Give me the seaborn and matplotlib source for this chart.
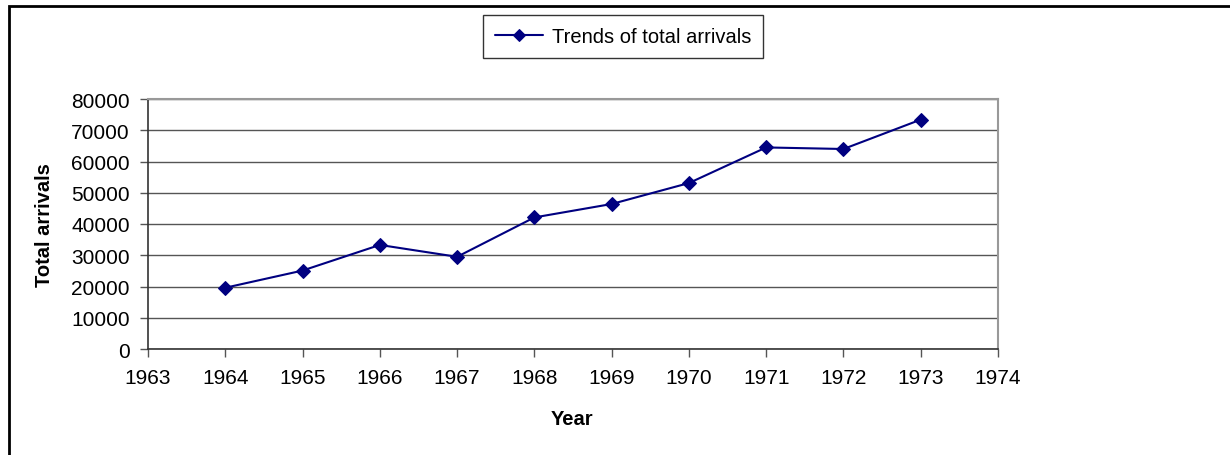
import matplotlib
matplotlib.use("Agg")
import matplotlib.pyplot as plt
import seaborn as sns
import pandas as pd
from matplotlib.patches import Rectangle

years = [1964, 1965, 1966, 1967, 1968, 1969, 1970, 1971, 1972, 1973]
arrivals = [19600, 25100, 33300, 29500, 42100, 46400, 53100, 64500, 64000, 73400]
series_name = "Trends of total arrivals"
x_ticks = list(range(1963, 1975))
y_ticks = list(range(0, 80001, 10000))

df = pd.DataFrame({"Year": years, "Total arrivals": arrivals})

sns.set_style("white")
plt.rcParams["font.family"] = ["Liberation Sans", "DejaVu Sans"]
plt.rcParams["text.color"] = "black"
plt.rcParams["xtick.color"] = "black"
plt.rcParams["ytick.color"] = "black"

W, H = 1230, 456
fig = plt.figure(figsize=(W / 100, H / 100), dpi=100)
ax = fig.add_axes([148 / W, 1 - 350 / H, (998 - 148) / W, 250 / H])

sns.lineplot(data=df, x="Year", y="Total arrivals", ax=ax, color="#000080",
             marker="D", markersize=7, markeredgecolor="#000080",
             linewidth=1.5, label=series_name)

ax.set_xlim(1963, 1974)
ax.set_ylim(0, 80000)
ax.set_xticks(x_ticks)
ax.set_yticks(y_ticks)
ax.set_xticklabels([str(t) for t in x_ticks], fontsize=15, color="black")
ax.set_yticklabels([str(t) for t in y_ticks], fontsize=15, color="black")
ax.tick_params(axis="both", direction="out", length=6, width=1, color="#555555",
               labelcolor="black", bottom=True, left=True)
ax.tick_params(axis="y", pad=7)
ax.tick_params(axis="x", pad=8)
ax.yaxis.grid(True, color="#555555", linewidth=1)
ax.set_axisbelow(True)
for s in ["top", "right"]:
    ax.spines[s].set_color("#999999")
    ax.spines[s].set_linewidth(1.5)
for s in ["left", "bottom"]:
    ax.spines[s].set_color("#333333")
    ax.spines[s].set_linewidth(1.2)

ax.set_xlabel("")
ax.set_ylabel("")
fig.text(572 / W, 1 - 420 / H, "Year", fontsize=14.5, fontweight="bold",
         ha="center", va="center", color="black")
fig.text(45 / W, 1 - 225 / H, "Total arrivals", fontsize=14.5, fontweight="bold",
         ha="center", va="center", rotation=90, color="black")

leg = ax.legend(loc="center", bbox_to_anchor=(623 / W, 1 - 37.5 / H),
                bbox_transform=fig.transFigure, frameon=True, fancybox=False,
                fontsize=14.5, handlelength=2.4, handletextpad=0.4,
                borderpad=0.6, edgecolor="black", markerscale=0.9)
leg.get_frame().set_linewidth(1)
for t in leg.get_texts():
    t.set_color("black")

fig.patches.append(Rectangle((9 / W, -0.05), 1.1, 1 - 7 / H + 0.05,
                             transform=fig.transFigure, fill=False,
                             edgecolor="black", linewidth=2))

fig.savefig("out.png", dpi=100)
